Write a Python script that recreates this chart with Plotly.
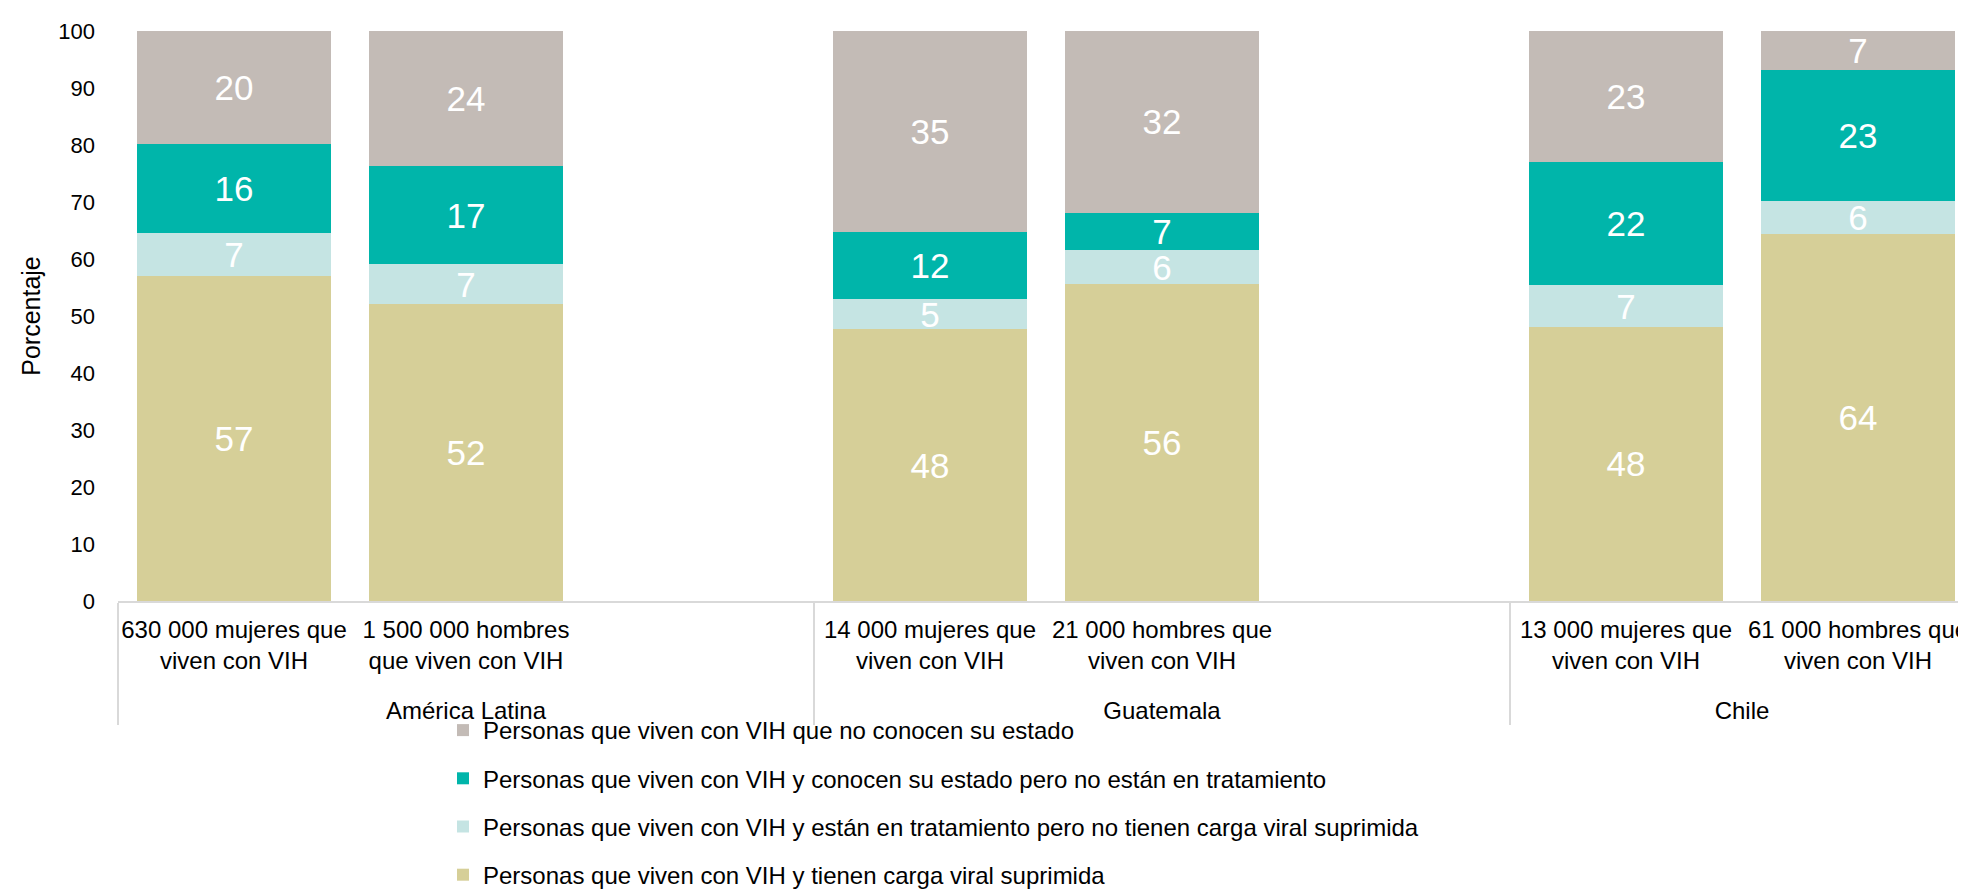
import plotly.graph_objects as go

groups = ["América Latina"] * 3 + ["Guatemala"] * 3 + ["Chile"] * 2
PAD = "<br><span style='font-size:4px;color:rgba(0,0,0,0)'>.</span>"
subcats = [
    "630 000 mujeres que<br>viven con VIH" + PAD,
    "1 500 000 hombres<br>que viven con VIH" + PAD,
    " ",
    "14 000 mujeres que<br>viven con VIH" + PAD,
    "21 000 hombres que<br>viven con VIH" + PAD,
    "  ",
    "13 000 mujeres que<br>viven con VIH" + PAD,
    "61 000 hombres que<br>viven con VIH" + PAD,
]

# segment sizes (percent)
suprimida = [57.0, 52.1, None, 47.7, 55.6, None, 48.1, 64.4]
tratamiento = [7.5, 7.0, None, 5.3, 5.9, None, 7.3, 5.8]
conocen = [15.7, 17.2, None, 11.8, 6.6, None, 21.7, 22.9]
no_conocen = [19.8, 23.7, None, 35.2, 31.9, None, 22.9, 6.9]

# printed labels
lab_suprimida = [57, 52, None, 48, 56, None, 48, 64]
lab_tratamiento = [7, 7, None, 5, 6, None, 7, 6]
lab_conocen = [16, 17, None, 12, 7, None, 22, 23]
lab_no_conocen = [20, 24, None, 35, 32, None, 23, 7]

series = [
    ("Personas que viven con VIH y tienen carga viral suprimida", suprimida, lab_suprimida, "#D6CF98", 4),
    ("Personas que viven con VIH y están en tratamiento pero no tienen carga viral suprimida", tratamiento, lab_tratamiento, "#C5E4E3", 3),
    ("Personas que viven con VIH y conocen su estado pero no están en tratamiento", conocen, lab_conocen, "#00B5AA", 2),
    ("Personas que viven con VIH que no conocen su estado", no_conocen, lab_no_conocen, "#C3BBB6", 1),
]

FONT = "Liberation Sans, Arial, sans-serif"

fig = go.Figure()
for name, vals, labs, color, rank in series:
    fig.add_trace(go.Bar(
        x=[groups, subcats],
        y=vals,
        name=name,
        marker=dict(color=color, line=dict(width=0)),
        text=["" if v is None else str(v) for v in labs],
        textposition="inside",
        insidetextanchor="middle",
        textangle=0,
        textfont=dict(color="white", size=35, family=FONT),
        legendgroup=name,
        legendrank=rank,
        hoverinfo="skip",
    ))

fig.update_layout(
    barmode="stack",
    bargap=0.168,
    width=1966,
    height=891,
    margin=dict(l=110, r=0, t=23, b=298, autoexpand=False),
    paper_bgcolor="white",
    plot_bgcolor="white",
    font=dict(family=FONT, size=22, color="black"),
    uniformtext=dict(minsize=35, mode="show"),
    showlegend=True,
    legend=dict(
        x=(435 - 110) / 1856,
        y=-(700 - 593) / 570,
        xanchor="left",
        yanchor="top",
        orientation="v",
        font=dict(size=24, family=FONT, color="black"),
        tracegroupgap=14,
        itemclick=False,
        bgcolor="rgba(0,0,0,0)",
    ),
    xaxis=dict(
        type="multicategory",
        range=[-0.5, 7.5],
        automargin=False,
        tickangle=0,
        showline=True,
        linecolor="#D9D9D9",
        linewidth=2,
        showgrid=False,
        zeroline=False,
        ticks="",
        ticklabelstandoff=6,
        showdividers=True,
        dividercolor="#D9D9D9",
        dividerwidth=2,
        tickfont=dict(size=24, family=FONT, color="black"),
    ),
    yaxis=dict(
        range=[0, 100],
        tick0=0,
        dtick=10,
        automargin=False,
        showline=False,
        showgrid=False,
        zeroline=False,
        ticks="",
        ticklabelstandoff=22,
        tickfont=dict(size=22, family=FONT, color="black"),
        title=dict(text="Porcentaje", font=dict(size=25, family=FONT, color="black"), standoff=10),
    ),
)

fig.write_html("out.html")
